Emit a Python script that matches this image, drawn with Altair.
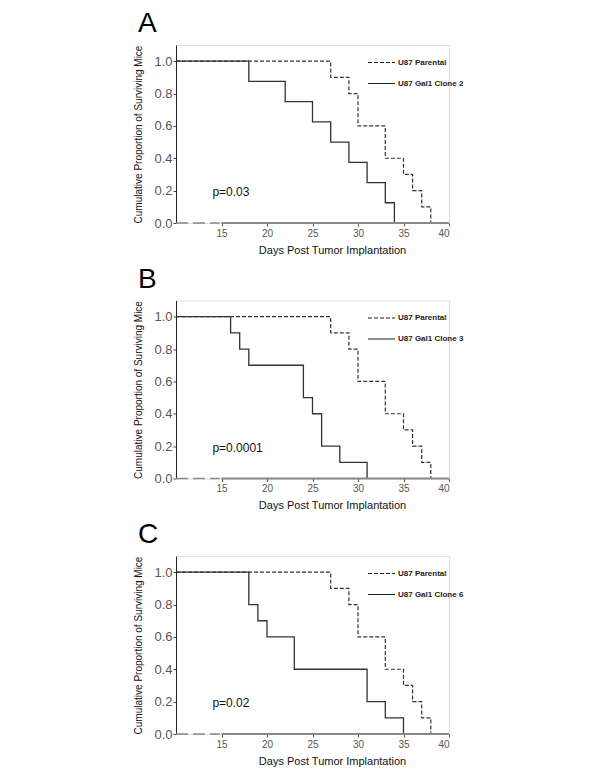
import altair as alt
import pandas as pd

FONT = "Liberation Sans"
W, H = 273, 178

x_ticks = [15, 20, 25, 30, 35, 40]
y_ticks = [0.0, 0.2, 0.4, 0.6, 0.8, 1.0]

parental_name = "U87 Parental"
parental_days = [10, 27, 29, 30, 33, 35, 36, 37, 38]
parental_surv = [1.0, 0.9, 0.8, 0.6, 0.4, 0.3, 0.2, 0.1, 0.0]

letters = ["A", "B", "C"]
clone_names = ["U87 Gal1 Clone 2", "U87 Gal1 Clone 3", "U87 Gal1 Clone 6"]
clone_days = [
    [10, 18, 22, 25, 27, 29, 31, 33, 34],
    [10, 16, 17, 18, 24, 25, 26, 28, 31],
    [10, 18, 19, 20, 23, 31, 33, 35],
]
clone_surv = [
    [1.0, 0.875, 0.75, 0.625, 0.5, 0.375, 0.25, 0.125, 0.0],
    [1.0, 0.9, 0.8, 0.7, 0.5, 0.4, 0.2, 0.1, 0.0],
    [1.0, 0.8, 0.7, 0.6, 0.4, 0.2, 0.1, 0.0],
]
p_texts = ["p=0.03", "p=0.0001", "p=0.02"]
p_pos = [14.0, 0.19]

axis_break = [10, 14.8]   # dashed part of the x axis
axis_solid = [15, 40]     # solid part of the x axis

XS = alt.Scale(domain=[10, 40], nice=False, zero=False)
YS = alt.Scale(domain=[0, 1.1], nice=False, zero=False)
X_AXIS = alt.Axis(
    values=x_ticks, title="Days Post Tumor Implantation", domain=False,
    tickSize=3, tickColor="#555", labelFont=FONT, labelFontSize=10, labelColor="#555",
    labelPadding=2, grid=False, labelOverlap=False,
    titleFont=FONT, titleFontSize=11, titleFontWeight="normal", titleColor="#111",
    titleX=156, titleY=21)
Y_AXIS = alt.Axis(
    values=y_ticks, format=".1f", title="Cumulative Proportion of Surviving Mice",
    domainColor="#222", domainWidth=1, tickColor="#444", tickSize=3,
    labelFont=FONT, labelFontSize=13, labelColor="#555", labelPadding=1, grid=False,
    labelOverlap=False, labelBound=False,
    titleFont=FONT, titleFontSize=10, titleFontWeight="normal", titleColor="#111",
    titlePadding=10)


def ex(field):
    return alt.X(f"{field}:Q", scale=XS, axis=X_AXIS)


def ey(field):
    return alt.Y(f"{field}:Q", scale=YS, axis=Y_AXIS)


def panel(letter, clone_name, cd, cs, ptext):
    rows = [{"day": d, "surv": s, "group": parental_name} for d, s in zip(parental_days, parental_surv)]
    rows += [{"day": d, "surv": s, "group": clone_name} for d, s in zip(cd, cs)]
    df = pd.DataFrame(rows)

    dash = alt.StrokeDash("group:N",
        scale=alt.Scale(domain=[parental_name, clone_name], range=[[4, 2], [1, 0]]),
        legend=alt.Legend(title=None, orient="none", legendX=191, legendY=3,
                          symbolType="stroke", symbolSize=729, symbolStrokeColor="#222",
                          symbolStrokeWidth=1.2, labelFont=FONT, labelFontSize=8,
                          labelFontWeight="bold", labelColor="#222", labelOffset=2,
                          rowPadding=2))

    axdf = pd.DataFrame({"x": [axis_break[0], axis_solid[0]], "x2": [axis_break[1], axis_solid[1]],
                         "y": [0, 0], "kind": ["break", "solid"]})
    ax_break = alt.Chart(axdf).transform_filter(alt.datum.kind == "break").mark_rule(
        color="#888", strokeWidth=1.5, strokeDash=[12, 5]).encode(
        x=ex("x"), x2="x2:Q", y=ey("y"))
    ax_solid = alt.Chart(axdf).transform_filter(alt.datum.kind == "solid").mark_rule(
        color="#888", strokeWidth=2).encode(
        x=ex("x"), x2="x2:Q", y=ey("y"))

    base = alt.Chart(df)
    par = base.transform_filter(alt.datum.group == parental_name).mark_line(
        interpolate="step-after", color="#333", strokeWidth=1.2).encode(
        x=ex("day"), y=ey("surv"), strokeDash=dash)
    clo = base.transform_filter(alt.datum.group == clone_name).mark_line(
        interpolate="step-after", color="#333", strokeWidth=1.3).encode(
        x=ex("day"), y=ey("surv"), strokeDash=dash)

    ptxt = alt.Chart(pd.DataFrame({"x": [p_pos[0]], "y": [p_pos[1]], "t": [ptext]})).mark_text(
        align="left", baseline="middle", font=FONT, fontSize=12, color="#111").encode(
        x=ex("x"), y=ey("y"), text="t:N")

    return alt.layer(par, clo, ax_break, ax_solid, ptxt).properties(
        width=W, height=H,
        title=alt.TitleParams(letter, anchor="start", frame="bounds", fontSize=28,
                              font=FONT, fontWeight="normal", color="#000", dx=4, offset=7))


charts = [panel(letters[i], clone_names[i], clone_days[i], clone_surv[i], p_texts[i]) for i in range(3)]

chart = alt.vconcat(*charts, spacing=8.5).resolve_scale(strokeDash="independent").resolve_legend(
    strokeDash="independent").properties(
    padding={"left": 125, "top": 1, "right": 5, "bottom": 5}).configure_view(stroke=None).configure(
    background="white")

chart.save("out.html", embed_options={"renderer": "svg", "actions": False})
